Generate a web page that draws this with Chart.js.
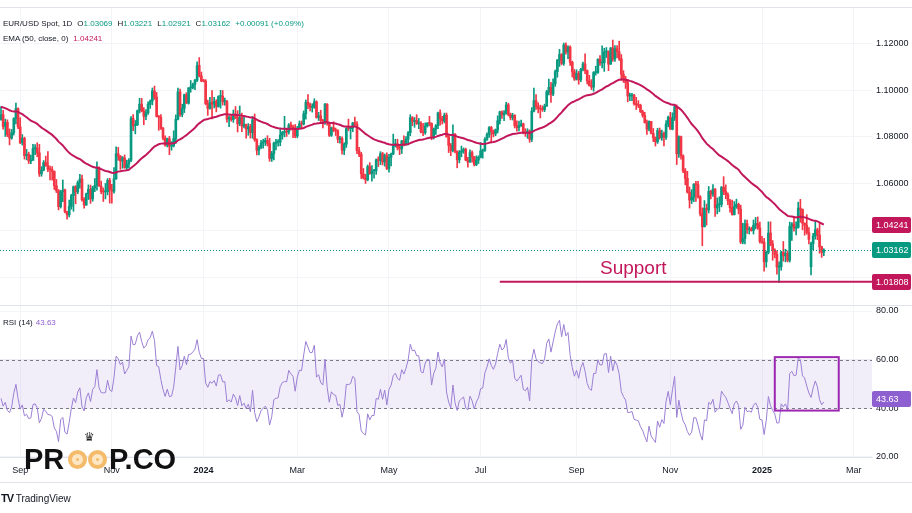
<!DOCTYPE html>
<html>
<head>
<meta charset="utf-8">
<script src="https://cdn.jsdelivr.net/npm/chart.js@4.4.1/dist/chart.umd.min.js"></script>
<style>
  html, body { margin:0; padding:0; background:#fff; }
  #wrap { position:relative; width:912px; height:513px; overflow:hidden; background:#fff;
          font-family:'Liberation Sans', Arial, sans-serif; color:#131722; }
  canvas { position:absolute; left:0; }
  #c1 { top:0; }
  #c2 { top:306px; }
  .hline { position:absolute; left:0; height:1px; background:#e0e3eb; }
  .legend { position:absolute; left:3px; font-size:8px; white-space:nowrap; line-height:11px; }
  .legend span.k { margin-left:5px; }
  .legend span.r { margin-left:3px; }
  #logo span.t { position:absolute; font:bold 29px 'Liberation Sans', Arial, sans-serif; color:#111; line-height:29px; }
  .eye { position:absolute; width:19px; height:19px; border-radius:50%; box-sizing:border-box;
         border:4px solid #f4bb6a; background:#fde6c4; }
  .eye::after { content:''; position:absolute; left:4px; top:4px; width:3px; height:3px; border-radius:50%; background:#f4bb6a; }
  #crown { position:absolute; left:84px; top:430px; font:12px 'DejaVu Sans', sans-serif; color:#222; }
  #tv { position:absolute; left:1px; top:492px; font-size:10px; white-space:nowrap; }
</style>
</head>
<body>
<div id="wrap">
  <canvas id="c1" width="912" height="306"></canvas>
  <canvas id="c2" width="912" height="207"></canvas>
  <div class="hline" style="top:7px;width:912px"></div>
  <div class="hline" style="top:305px;width:912px"></div>
  <div class="hline" style="top:482px;width:912px"></div>
  <div class="legend" id="leg1" style="top:18px"></div>
  <div class="legend" id="leg2" style="top:33px"></div>
  <div class="legend" id="leg3" style="top:317px"></div>
  <div id="logo">
    <span class="t" style="left:24px;top:445px">PR</span>
    <div class="eye" style="left:68px;top:450px"></div>
    <div class="eye" style="left:88px;top:450px"></div>
    <span id="crown">♛</span>
    <span class="t" style="left:109px;top:445px">P.CO</span>
  </div>
  <div id="tv"><b style="font-size:11px;letter-spacing:-1px">TV</b> TradingView</div>
</div>
<script>
// ---------------- DATA ----------------
const firstDay = '2023-08-21';            // date of the first daily candle
const lastDay  = '2025-02-11';            // date of the last daily candle

const opens = [
// 2023-08
1.0873,1.0895,1.0845,1.0862,1.0809,1.0795,1.0818,1.0878,1.0921,
// 2023-09
1.0843,1.0775,1.0794,1.0720,1.0726,1.0697,1.0700,1.0750,1.0753,1.0732,1.0642,1.0658,1.0690,1.0679,1.0661,1.0660,1.0652,1.0591,1.0570,1.0502,1.0566,
// 2023-10
1.0573,1.0480,1.0467,1.0503,1.0549,1.0587,1.0565,1.0604,1.0620,1.0532,1.0509,1.0557,1.0576,1.0535,1.0582,1.0593,1.0668,1.0590,1.0566,1.0565,1.0566,1.0614,
// 2023-11
1.0575,1.0568,1.0621,1.0728,1.0718,1.0697,1.0710,1.0668,1.0684,1.0700,1.0879,1.0848,1.0852,1.0912,1.0940,1.0910,1.0888,1.0903,1.0940,1.0953,1.0996,1.0970,
// 2023-12
1.0888,1.0884,1.0836,1.0795,1.0765,1.0792,1.0760,1.0762,1.0793,1.0875,1.0992,1.0896,1.0922,1.0980,1.0944,1.1009,1.1011,1.1025,1.1042,1.1105,1.1061,
// 2024-01
1.1039,1.1038,1.0942,1.0922,1.0947,1.0940,1.0951,1.0930,1.0973,1.0974,1.0950,1.0951,1.0876,1.0883,1.0874,1.0897,1.0884,1.0856,1.0883,1.0846,1.0853,1.0834,1.0844,
// 2024-02
1.0818,1.0873,1.0788,1.0743,1.0756,1.0774,1.0779,1.0785,1.0772,1.0708,1.0728,1.0773,1.0777,1.0778,1.0808,1.0819,1.0822,1.0821,1.0851,1.0843,1.0838,
// 2024-03
1.0804,1.0838,1.0856,1.0855,1.0899,1.0948,1.0937,1.0926,1.0927,1.0950,1.0883,1.0890,1.0870,1.0865,1.0939,1.0861,1.0807,1.0839,1.0829,1.0826,1.0790,
// 2024-04
1.0793,1.0743,1.0769,1.0836,1.0835,1.0838,1.0860,1.0855,1.0741,1.0726,1.0642,1.0625,1.0617,1.0673,1.0643,1.0655,1.0655,1.0702,1.0699,1.0728,1.0693,1.0720,
// 2024-05
1.0665,1.0713,1.0727,1.0761,1.0770,1.0754,1.0749,1.0783,1.0771,1.0790,1.0818,1.0882,1.0866,1.0870,1.0857,1.0857,1.0821,1.0818,1.0847,1.0859,1.0857,1.0801,1.0833,
// 2024-06
1.0848,1.0903,1.0877,1.0868,1.0893,1.0801,1.0764,1.0741,1.0812,1.0739,1.0702,1.0734,1.0740,1.0747,1.0701,1.0692,1.0733,1.0715,1.0681,1.0701,
// 2024-07
1.0713,1.0740,1.0742,1.0790,1.0810,1.0840,1.0823,1.0813,1.0830,1.0869,1.0907,1.0894,1.0902,1.0937,1.0896,1.0883,1.0892,1.0848,1.0840,1.0848,1.0856,1.0821,1.0817,
// 2024-08
1.0825,1.0790,1.0910,1.0955,1.0930,1.0922,1.0919,1.0917,1.0932,1.0993,1.1012,1.0983,1.1027,1.1079,1.1128,1.1152,1.1114,1.1193,1.1163,1.1184,1.1119,1.1078,
// 2024-09
1.1047,1.1072,1.1044,1.1089,1.1112,1.1083,1.1039,1.1019,1.1013,1.1075,1.1075,1.1132,1.1116,1.1117,1.1163,1.1164,1.1111,1.1180,1.1133,1.1177,1.1164,
// 2024-10
1.1134,1.1068,1.1047,1.1032,1.0975,1.0975,1.0978,1.0942,1.0938,1.0935,1.0908,1.0892,1.0861,1.0833,1.0866,1.0815,1.0797,1.0779,1.0827,1.0797,1.0815,1.0798,1.0855,
// 2024-11
1.0884,1.0833,1.0880,1.0929,1.0728,1.0801,1.0719,1.0655,1.0623,1.0564,1.0530,1.0542,1.0598,1.0596,1.0544,1.0472,1.0416,1.0495,1.0488,1.0567,1.0555,
// 2024-12
1.0577,1.0497,1.0510,1.0512,1.0585,1.0567,1.0553,1.0527,1.0497,1.0468,1.0502,1.0512,1.0491,1.0351,1.0365,1.0429,1.0404,1.0406,1.0400,1.0422,1.0430,1.0411,
// 2025-01
1.0353,1.0350,1.0266,1.0307,1.0389,1.0342,1.0316,1.0298,1.0244,1.0245,1.0307,1.0292,1.0302,1.0273,1.0417,1.0428,1.0410,1.0413,1.0496,1.0490,1.0431,1.0422,1.0391,
// 2025-02
1.0245,1.0343,1.0377,1.0403,1.0381,1.0330,1.03069
];

const highs = [
// 2023-08
1.0930,1.0914,1.0876,1.0873,1.0834,1.0832,1.0882,1.0945,1.0924,
// 2023-09
1.0882,1.0810,1.0799,1.0747,1.0735,1.0722,1.0768,1.0767,1.0775,1.0768,1.0673,1.0699,1.0718,1.0737,1.0675,1.0673,1.0655,1.0618,1.0575,1.0572,1.0616,
// 2023-10
1.0577,1.0482,1.0530,1.0555,1.0590,1.0592,1.0612,1.0640,1.0637,1.0541,1.0560,1.0595,1.0594,1.0589,1.0622,1.0694,1.0672,1.0611,1.0582,1.0601,1.0622,1.0623,
// 2023-11
1.0597,1.0669,1.0758,1.0755,1.0720,1.0716,1.0723,1.0701,1.0707,1.0887,1.0895,1.0870,1.0915,1.0965,1.0965,1.0925,1.0917,1.0950,1.0958,1.1009,1.1017,1.0990,
// 2023-12
1.0892,1.0895,1.0841,1.0805,1.0795,1.0802,1.0780,1.0826,1.0894,1.1009,1.1004,1.0940,1.0983,1.0989,1.1011,1.1041,1.1030,1.1046,1.1121,1.1139,1.1077,
// 2024-01
1.1046,1.1045,1.0957,1.0969,1.0998,1.0969,1.0959,1.0976,1.0999,1.0998,1.0966,1.0956,1.0890,1.0896,1.0915,1.0930,1.0912,1.0932,1.0902,1.0885,1.0855,1.0857,1.0854,
// 2024-02
1.0888,1.0898,1.0792,1.0763,1.0785,1.0790,1.0795,1.0805,1.0794,1.0738,1.0778,1.0790,1.0789,1.0838,1.0824,1.0888,1.0838,1.0857,1.0863,1.0850,1.0853,
// 2024-03
1.0845,1.0868,1.0868,1.0911,1.0958,1.0981,1.0945,1.0942,1.0963,1.0954,1.0905,1.0914,1.0875,1.0943,1.0942,1.0863,1.0842,1.0865,1.0838,1.0831,1.0802,
// 2024-04
1.0800,1.0775,1.0840,1.0876,1.0842,1.0862,1.0885,1.0865,1.0755,1.0734,1.0665,1.0640,1.0680,1.0690,1.0677,1.0661,1.0706,1.0715,1.0737,1.0734,1.0727,1.0732,
// 2024-05
1.0726,1.0731,1.0812,1.0790,1.0790,1.0763,1.0785,1.0805,1.0801,1.0823,1.0895,1.0887,1.0883,1.0895,1.0879,1.0865,1.0858,1.0860,1.0861,1.0888,1.0860,1.0838,1.0853,
// 2024-06
1.0906,1.0916,1.0888,1.0902,1.0902,1.0806,1.0772,1.0852,1.0814,1.0740,1.0742,1.0761,1.0753,1.0752,1.0713,1.0745,1.0740,1.0716,1.0719,1.0719,
// 2024-07
1.0776,1.0748,1.0797,1.0817,1.0844,1.0845,1.0830,1.0834,1.0890,1.0910,1.0911,1.0912,1.0948,1.0944,1.0902,1.0901,1.0895,1.0869,1.0868,1.0872,1.0859,1.0835,1.0835,
// 2024-08
1.0830,1.0925,1.1009,1.0981,1.0946,1.0936,1.0933,1.0940,1.0999,1.1047,1.1033,1.1048,1.1086,1.1131,1.1174,1.1156,1.1201,1.1202,1.1189,1.1189,1.1124,1.1088,
// 2024-09
1.1087,1.1080,1.1093,1.1120,1.1155,1.1086,1.1063,1.1045,1.1079,1.1102,1.1134,1.1148,1.1189,1.1179,1.1182,1.1168,1.1182,1.1214,1.1190,1.1190,1.1209,
// 2024-10
1.1152,1.1083,1.1059,1.1045,1.0987,1.0986,1.0982,1.0969,1.0955,1.0940,1.0914,1.0905,1.0872,1.0869,1.0867,1.0836,1.0800,1.0837,1.0838,1.0829,1.0822,1.0870,1.0889,
// 2024-11
1.0905,1.0903,1.0937,1.0937,1.0805,1.0803,1.0723,1.0665,1.0653,1.0586,1.0575,1.0600,1.0610,1.0610,1.0549,1.0497,1.0528,1.0513,1.0588,1.0572,1.0596,
// 2024-12
1.0579,1.0539,1.0544,1.0588,1.0630,1.0595,1.0561,1.0533,1.0530,1.0524,1.0534,1.0517,1.0508,1.0431,1.0446,1.0445,1.0416,1.0414,1.0445,1.0456,1.0458,1.0436,
// 2025-01
1.0375,1.0366,1.0312,1.0437,1.0437,1.0357,1.0322,1.0313,1.0266,1.0311,1.0353,1.0320,1.0313,1.0436,1.0434,1.0455,1.0437,1.0521,1.0533,1.0492,1.0433,1.0468,1.0413,
// 2025-02
1.0350,1.0388,1.0443,1.0410,1.0431,1.0333,1.03221
];

const lows = [
// 2023-08
1.0872,1.0833,1.0802,1.0801,1.0766,1.0790,1.0808,1.0856,1.0835,
// 2023-09
1.0771,1.0765,1.0705,1.0702,1.0686,1.0686,1.0700,1.0724,1.0715,1.0631,1.0632,1.0655,1.0674,1.0651,1.0616,1.0615,1.0575,1.0562,1.0488,1.0496,1.0523,
// 2023-10
1.0475,1.0448,1.0458,1.0491,1.0482,1.0514,1.0557,1.0581,1.0525,1.0495,1.0507,1.0532,1.0516,1.0525,1.0566,1.0572,1.0588,1.0557,1.0524,1.0535,1.0552,1.0517,
// 2023-11
1.0517,1.0560,1.0618,1.0700,1.0661,1.0666,1.0666,1.0656,1.0666,1.0694,1.0827,1.0813,1.0848,1.0902,1.0907,1.0852,1.0874,1.0896,1.0922,1.0937,1.0960,1.0885,
// 2023-12
1.0828,1.0832,1.0787,1.0760,1.0757,1.0724,1.0743,1.0757,1.0772,1.0873,1.0888,1.0886,1.0904,1.0943,1.0940,1.0991,1.1005,1.1002,1.1036,1.1056,1.1036,
// 2024-01
1.1035,1.0937,1.0892,1.0918,1.0877,1.0924,1.0907,1.0927,1.0923,1.0936,1.0935,1.0863,1.0844,1.0867,1.0862,1.0878,1.0821,1.0848,1.0822,1.0838,1.0795,1.0807,1.0795,
// 2024-02
1.0794,1.0781,1.0723,1.0723,1.0750,1.0752,1.0763,1.0761,1.0696,1.0695,1.0702,1.0744,1.0760,1.0762,1.0790,1.0800,1.0802,1.0812,1.0829,1.0797,1.0796,
// 2024-03
1.0796,1.0837,1.0837,1.0851,1.0876,1.0921,1.0911,1.0906,1.0922,1.0880,1.0870,1.0863,1.0838,1.0853,1.0850,1.0802,1.0802,1.0822,1.0806,1.0775,1.0773,
// 2024-04
1.0726,1.0724,1.0755,1.0826,1.0791,1.0822,1.0845,1.0728,1.0716,1.0622,1.0620,1.0601,1.0612,1.0640,1.0611,1.0624,1.0640,1.0673,1.0681,1.0680,1.0675,1.0660,
// 2024-05
1.0649,1.0676,1.0724,1.0757,1.0744,1.0724,1.0729,1.0761,1.0765,1.0766,1.0805,1.0848,1.0841,1.0853,1.0835,1.0817,1.0805,1.0811,1.0842,1.0847,1.0788,1.0791,1.0811,
// 2024-06
1.0835,1.0850,1.0855,1.0860,1.0798,1.0733,1.0720,1.0736,1.0732,1.0668,1.0689,1.0715,1.0730,1.0698,1.0671,1.0692,1.0692,1.0676,1.0677,1.0686,
// 2024-07
1.0710,1.0709,1.0738,1.0785,1.0798,1.0775,1.0800,1.0805,1.0817,1.0855,1.0879,1.0869,1.0897,1.0890,1.0873,1.0872,1.0838,1.0825,1.0826,1.0845,1.0813,1.0802,1.0794,
// 2024-08
1.0777,1.0780,1.0907,1.0917,1.0903,1.0881,1.0909,1.0908,1.0930,1.0979,1.0947,1.0976,1.1016,1.1055,1.1101,1.1108,1.1106,1.1154,1.1134,1.1105,1.1056,1.1041,
// 2024-09
1.1043,1.1025,1.1036,1.1082,1.1070,1.1026,1.1017,1.1002,1.0995,1.1064,1.1071,1.1105,1.1095,1.1080,1.1139,1.1083,1.1110,1.1123,1.1123,1.1139,1.1127,
// 2024-10
1.1042,1.1033,1.1007,1.0950,1.0955,1.0955,1.0936,1.0917,1.0925,1.0904,1.0884,1.0859,1.0811,1.0826,1.0813,1.0780,1.0761,1.0772,1.0790,1.0785,1.0761,1.0789,1.0843,
// 2024-11
1.0832,1.0830,1.0870,1.0682,1.0712,1.0705,1.0647,1.0595,1.0560,1.0496,1.0515,1.0523,1.0524,1.0538,1.0462,1.0335,1.0415,1.0423,1.0475,1.0535,1.0546,
// 2024-12
1.0460,1.0471,1.0480,1.0501,1.0553,1.0536,1.0510,1.0478,1.0466,1.0466,1.0495,1.0471,1.0344,1.0343,1.0343,1.0388,1.0385,1.0397,1.0385,1.0407,1.0405,1.0346,
// 2025-01
1.0345,1.0226,1.0243,1.0300,1.0335,1.0273,1.0283,1.0213,1.0178,1.0230,1.0269,1.0266,1.0266,1.0265,1.0358,1.0397,1.0381,1.0410,1.0435,1.0403,1.0380,1.0384,1.0343,
// 2025-02
1.0210,1.0318,1.0363,1.0361,1.0303,1.0285,1.02921
];

const closes = [
// 2023-08
1.0895,1.0845,1.0862,1.0809,1.0795,1.0818,1.0878,1.0921,1.0843,
// 2023-09
1.0775,1.0794,1.0720,1.0726,1.0697,1.0700,1.0750,1.0753,1.0732,1.0642,1.0658,1.0690,1.0679,1.0661,1.0660,1.0652,1.0591,1.0570,1.0502,1.0566,1.0573,
// 2023-10
1.0480,1.0467,1.0503,1.0549,1.0587,1.0565,1.0604,1.0620,1.0532,1.0509,1.0557,1.0576,1.0535,1.0582,1.0593,1.0668,1.0590,1.0566,1.0565,1.0566,1.0614,1.0575,
// 2023-11
1.0568,1.0621,1.0728,1.0718,1.0697,1.0710,1.0668,1.0684,1.0700,1.0879,1.0848,1.0852,1.0912,1.0940,1.0910,1.0888,1.0903,1.0940,1.0953,1.0996,1.0970,1.0888,
// 2023-12
1.0884,1.0836,1.0795,1.0765,1.0792,1.0760,1.0762,1.0793,1.0875,1.0992,1.0896,1.0922,1.0980,1.0944,1.1009,1.1011,1.1025,1.1042,1.1105,1.1061,1.1039,
// 2024-01
1.1038,1.0942,1.0922,1.0947,1.0940,1.0951,1.0930,1.0973,1.0974,1.0950,1.0951,1.0876,1.0883,1.0874,1.0897,1.0884,1.0856,1.0883,1.0846,1.0853,1.0834,1.0844,1.0818,
// 2024-02
1.0873,1.0788,1.0743,1.0756,1.0774,1.0779,1.0785,1.0772,1.0708,1.0728,1.0773,1.0777,1.0778,1.0808,1.0819,1.0822,1.0821,1.0851,1.0843,1.0838,1.0804,
// 2024-03
1.0838,1.0856,1.0855,1.0899,1.0948,1.0937,1.0926,1.0927,1.0950,1.0883,1.0890,1.0870,1.0865,1.0939,1.0861,1.0807,1.0839,1.0829,1.0826,1.0790,1.0793,
// 2024-04
1.0743,1.0769,1.0836,1.0835,1.0838,1.0860,1.0855,1.0741,1.0726,1.0642,1.0625,1.0617,1.0673,1.0643,1.0655,1.0655,1.0702,1.0699,1.0728,1.0693,1.0720,1.0665,
// 2024-05
1.0713,1.0727,1.0761,1.0770,1.0754,1.0749,1.0783,1.0771,1.0790,1.0818,1.0882,1.0866,1.0870,1.0857,1.0857,1.0821,1.0818,1.0847,1.0859,1.0857,1.0801,1.0833,1.0848,
// 2024-06
1.0903,1.0877,1.0868,1.0893,1.0801,1.0764,1.0741,1.0812,1.0739,1.0702,1.0734,1.0740,1.0747,1.0701,1.0692,1.0733,1.0715,1.0681,1.0701,1.0713,
// 2024-07
1.0740,1.0742,1.0790,1.0810,1.0840,1.0823,1.0813,1.0830,1.0869,1.0907,1.0894,1.0902,1.0937,1.0896,1.0883,1.0892,1.0848,1.0840,1.0848,1.0856,1.0821,1.0817,1.0825,
// 2024-08
1.0790,1.0910,1.0955,1.0930,1.0922,1.0919,1.0917,1.0932,1.0993,1.1012,1.0983,1.1027,1.1079,1.1128,1.1152,1.1114,1.1193,1.1163,1.1184,1.1119,1.1078,1.1047,
// 2024-09
1.1072,1.1044,1.1089,1.1112,1.1083,1.1039,1.1019,1.1013,1.1075,1.1075,1.1132,1.1116,1.1117,1.1163,1.1164,1.1111,1.1180,1.1133,1.1177,1.1164,1.1134,
// 2024-10
1.1068,1.1047,1.1032,1.0975,1.0975,1.0978,1.0942,1.0938,1.0935,1.0908,1.0892,1.0861,1.0833,1.0866,1.0815,1.0797,1.0779,1.0827,1.0797,1.0815,1.0798,1.0855,1.0884,
// 2024-11
1.0833,1.0880,1.0929,1.0728,1.0801,1.0719,1.0655,1.0623,1.0564,1.0530,1.0542,1.0598,1.0596,1.0544,1.0472,1.0416,1.0495,1.0488,1.0567,1.0555,1.0577,
// 2024-12
1.0497,1.0510,1.0512,1.0585,1.0567,1.0553,1.0527,1.0497,1.0468,1.0502,1.0512,1.0491,1.0351,1.0365,1.0429,1.0404,1.0406,1.0400,1.0422,1.0430,1.0411,1.0353,
// 2025-01
1.0350,1.0266,1.0307,1.0389,1.0342,1.0316,1.0298,1.0244,1.0245,1.0307,1.0292,1.0302,1.0273,1.0417,1.0428,1.0410,1.0413,1.0496,1.0490,1.0431,1.0422,1.0391,1.0362,
// 2025-02
1.0343,1.0377,1.0403,1.0381,1.0330,1.0307,1.03162
];

const priceTicks = [1.02, 1.04, 1.06, 1.08, 1.10, 1.12];
const rsiTicks   = [20, 40, 60, 80];
const rsiBand    = [40, 60];
const tickLabels = ['Sep', 'Nov', '2024', 'Mar', 'May', 'Jul', 'Sep', 'Nov', '2025', 'Mar'];

const symbolTitle = 'EUR/USD Spot, 1D';
const lastBar = { o: 1.03069, h: 1.03221, l: 1.02921, c: 1.03162, chg: '+0.00091 (+0.09%)' };
const emaLength = 50, emaLast = 1.04241, emaSeed = 1.0929;   // EMA value at the first bar
const rsiLength = 14, rsiLast = 43.63, rsiSeedGain = 0.0022, rsiSeedLoss = 0.0028;
const supportLevel = 1.01808, supportText = 'Support';
const supportFrom = '2024-07-12', supportTextAt = '2024-09-17';
const rsiBox = { from: '2025-01-09', to: '2025-02-20', top: 61, bottom: 39 };

// ---------------- STYLE ----------------
const UP = '#089981', DOWN = '#f23645', EMA_C = '#c2185b', RSI_C = '#9b7fd4', RSI_TAG = '#8e5fd0', BOX_C = '#9c27b0';
const GRID = '#f2f4f8', TXT = '#131722';
const FONT = "'Liberation Sans', Arial, sans-serif";
const xMin = -0.47, xMax = 408.6;
const priceMin = 1.00816, priceMax = 1.13509;
const rsiMin = 19.88, rsiMax = 82.06;

// ---------------- trading-day calendar ----------------
const dates = [], dayIndex = {};
(function () {
  let t = Date.parse(firstDay + 'T00:00:00Z');
  while (dates.length < 420) {
    const d = new Date(t), wd = d.getUTCDay();
    if (wd !== 0 && wd !== 6) { const s = d.toISOString().slice(0, 10); dayIndex[s] = dates.length; dates.push(s); }
    t += 86400000;
  }
})();
if (opens.length !== closes.length || highs.length !== closes.length || lows.length !== closes.length ||
    dates[closes.length - 1] !== lastDay) {
  throw new Error('length mismatch ' + [opens.length, highs.length, lows.length, closes.length, dates[closes.length - 1]].join(','));
}
const monthTicks = [];
for (let i = 1; i < dates.length && monthTicks.length < tickLabels.length; i++) {
  const m = +dates[i].slice(5, 7), pm = +dates[i - 1].slice(5, 7);
  if (m !== pm && m % 2 === 1) monthTicks.push(i);
}

// ---------------- indicators (as named on the chart) ----------------
const ema = [];
(function () {
  const k = 2 / (emaLength + 1); let e = emaSeed; ema.push(e);
  for (let i = 1; i < closes.length; i++) { e += k * (closes[i] - e); ema.push(e); }
})();
const rsi = [];
(function () {
  let g = rsiSeedGain, l = rsiSeedLoss; rsi.push(100 - 100 / (1 + g / l));
  for (let i = 1; i < closes.length; i++) {
    const ch = closes[i] - closes[i - 1];
    g = (g * (rsiLength - 1) + Math.max(ch, 0)) / rsiLength;
    l = (l * (rsiLength - 1) + Math.max(-ch, 0)) / rsiLength;
    rsi.push(l === 0 ? 100 : 100 - 100 / (1 + g / l));
  }
})();

// ---------------- legends (real text) ----------------
const val = (t, c) => '<span style="color:' + c + '">' + t + '</span>';
document.getElementById('leg1').innerHTML =
  symbolTitle +
  '<span class="k">O</span>' + val(lastBar.o.toFixed(5), UP) +
  '<span class="k">H</span>' + val(lastBar.h.toFixed(5), UP) +
  '<span class="k">L</span>' + val(lastBar.l.toFixed(5), UP) +
  '<span class="k">C</span>' + val(lastBar.c.toFixed(5), UP) +
  '<span class="k" style="color:' + UP + '">' + lastBar.chg + '</span>';
document.getElementById('leg2').innerHTML =
  'EMA (' + emaLength + ', close, 0)<span class="k" style="color:' + EMA_C + '">' + emaLast.toFixed(5) + '</span>';
document.getElementById('leg3').innerHTML =
  'RSI (' + rsiLength + ')<span class="r" style="color:' + RSI_TAG + '">' + rsiLast.toFixed(2) + '</span>';

// ---------------- helpers ----------------
Chart.defaults.font.family = FONT;
function tag(ctx, x0, yc, text, bg) {
  const y = Math.round(yc);
  ctx.save();
  ctx.fillStyle = bg;
  ctx.beginPath(); ctx.roundRect(x0, y - 8, 39, 16, 2); ctx.fill();
  ctx.fillStyle = '#fff'; ctx.font = '9px ' + FONT; ctx.textAlign = 'left'; ctx.textBaseline = 'middle';
  ctx.fillText(text, x0 + 4, y + 0.5);
  ctx.restore();
}
const candleColor = c => (closes[c.dataIndex] >= opens[c.dataIndex] ? UP : DOWN);
const xScale = (showLabels) => ({
  type: 'linear', min: xMin, max: xMax, offset: false,
  grid: { color: GRID, drawTicks: false, offset: false },
  border: { display: showLabels, color: '#e0e3eb' },
  ticks: {
    display: showLabels, padding: 8, color: TXT, maxRotation: 0, autoSkip: false,
    font: c => ({ family: FONT, size: 9, weight: /^\d{4}$/.test(tickLabels[c.index]) ? 'bold' : 'normal' }),
    callback: (v, i) => tickLabels[i]
  },
  afterBuildTicks: s => { s.ticks = monthTicks.map(v => ({ value: v })); },
  afterFit: s => { s.height = showLabels ? 25 : 0; s.paddingLeft = 0; s.paddingRight = 0; }
});
const yScale = (min, max, ticks, digits) => ({
  position: 'right', min, max,
  grid: { color: GRID, drawTicks: false },
  border: { display: false },
  ticks: { padding: 4, color: TXT, font: { family: FONT, size: 9 }, callback: v => v.toFixed(digits) },
  afterBuildTicks: s => { s.ticks = ticks.map(v => ({ value: v })); },
  afterFit: s => { s.width = 40; s.paddingTop = 0; s.paddingBottom = 0; }
});

// ---------------- price pane ----------------
const pricePlugin = {
  id: 'priceExtras',
  afterDatasetsDraw(chart) {
    const { ctx, chartArea: a, scales: { x, y } } = chart;
    ctx.save();
    const yc = Math.round(y.getPixelForValue(lastBar.c)) + 0.5;
    ctx.strokeStyle = UP; ctx.lineWidth = 1; ctx.setLineDash([1, 2]);
    ctx.beginPath(); ctx.moveTo(a.left, yc); ctx.lineTo(a.right, yc); ctx.stroke();
    ctx.setLineDash([]);
    ctx.fillStyle = EMA_C; ctx.font = '19px ' + FONT; ctx.textAlign = 'left'; ctx.textBaseline = 'alphabetic';
    ctx.fillText(supportText, x.getPixelForValue(dayIndex[supportTextAt]), y.getPixelForValue(supportLevel) - 8);
    ctx.restore();
  },
  afterDraw(chart) {
    const { ctx, chartArea: a, scales: { y } } = chart;
    tag(ctx, a.right, y.getPixelForValue(emaLast), emaLast.toFixed(5), EMA_C);
    tag(ctx, a.right, y.getPixelForValue(lastBar.c), lastBar.c.toFixed(5), UP);
    tag(ctx, a.right, y.getPixelForValue(supportLevel), supportLevel.toFixed(5), EMA_C);
  }
};

new Chart(document.getElementById('c1'), {
  type: 'bar',
  data: {
    datasets: [
      { type: 'line', label: 'Support', data: [{ x: dayIndex[supportFrom], y: supportLevel }, { x: xMax, y: supportLevel }],
        borderColor: EMA_C, borderWidth: 2, pointRadius: 0, order: 0 },
      { type: 'line', label: 'EMA', data: ema.map((v, i) => ({ x: i, y: v })),
        borderColor: EMA_C, borderWidth: 2, pointRadius: 0, tension: 0, order: 1 },
      { label: 'Body', data: closes.map((c, i) => ({ x: i, y: [opens[i], c] })),
        backgroundColor: candleColor, barThickness: 2, minBarLength: 1, grouped: false, order: 2 },
      { label: 'Wick', data: closes.map((c, i) => ({ x: i, y: [lows[i], highs[i]] })),
        backgroundColor: candleColor, barThickness: 1, grouped: false, order: 3 }
    ]
  },
  options: {
    responsive: false, animation: false, devicePixelRatio: 1,
    layout: { padding: { left: 0, right: 0, top: 8, bottom: 1 } },
    plugins: { legend: { display: false }, tooltip: { enabled: false } },
    scales: { x: xScale(false), y: yScale(priceMin, priceMax, priceTicks, 5) }
  },
  plugins: [pricePlugin]
});

// ---------------- RSI pane ----------------
const rsiPlugin = {
  id: 'rsiExtras',
  beforeDatasetsDraw(chart) {
    const { ctx, chartArea: a, scales: { y } } = chart;
    const yTop = y.getPixelForValue(rsiBand[1]), yBot = y.getPixelForValue(rsiBand[0]);
    ctx.save();
    ctx.fillStyle = 'rgba(126,87,194,0.1)';
    ctx.fillRect(a.left, yTop, a.right - a.left, yBot - yTop);
    ctx.strokeStyle = '#787b86'; ctx.lineWidth = 1; ctx.setLineDash([3, 3]);
    rsiBand.forEach(v => {
      const yy = Math.round(y.getPixelForValue(v)) + 0.5;
      ctx.beginPath(); ctx.moveTo(a.left, yy); ctx.lineTo(a.right, yy); ctx.stroke();
    });
    ctx.restore();
  },
  afterDatasetsDraw(chart) {
    const { ctx, scales: { x, y } } = chart;
    const x0 = x.getPixelForValue(dayIndex[rsiBox.from]), x1 = x.getPixelForValue(dayIndex[rsiBox.to]);
    const y0 = y.getPixelForValue(rsiBox.top), y1 = y.getPixelForValue(rsiBox.bottom);
    ctx.save();
    ctx.strokeStyle = BOX_C; ctx.lineWidth = 2;
    ctx.strokeRect(x0, y0, x1 - x0, y1 - y0);
    ctx.restore();
  },
  afterDraw(chart) {
    const { ctx, chartArea: a, scales: { y } } = chart;
    tag(ctx, a.right, y.getPixelForValue(rsiLast), rsiLast.toFixed(2), RSI_TAG);
  }
};

new Chart(document.getElementById('c2'), {
  type: 'line',
  data: {
    datasets: [
      { label: 'RSI', data: rsi.map((v, i) => ({ x: i, y: v })), borderColor: RSI_C, borderWidth: 1,
        pointRadius: 0, tension: 0 }
    ]
  },
  options: {
    responsive: false, animation: false, devicePixelRatio: 1,
    layout: { padding: { left: 0, right: 0, top: 0, bottom: 31 } },
    plugins: { legend: { display: false }, tooltip: { enabled: false } },
    scales: { x: xScale(true), y: yScale(rsiMin, rsiMax, rsiTicks, 2) }
  },
  plugins: [rsiPlugin]
});
</script>
</body>
</html>
